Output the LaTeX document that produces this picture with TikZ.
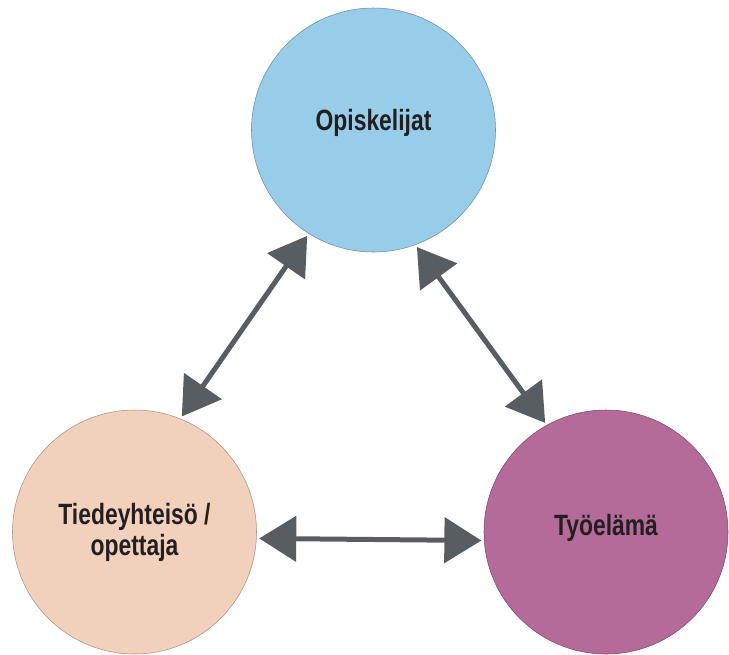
\documentclass[tikz,border=0pt]{standalone}
\usepackage{fontspec}
\setmainfont{Liberation Sans}[FakeStretch=0.78]
\usetikzlibrary{arrows.meta}

\definecolor{opblau}{RGB}{152,205,234}
\definecolor{tiedepfirsich}{RGB}{242,209,188}
\definecolor{tyolila}{RGB}{180,107,153}
\definecolor{pfeilgrau}{RGB}{88,93,97}
\definecolor{textgrau}{RGB}{35,31,32}

\tikzset{
  kreis/.style={circle, minimum size=183pt, inner sep=0pt, line width=0.4pt, draw=#1!70!black, fill=#1},
  teksti/.style={font=\bfseries\fontsize{22}{23.25}\selectfont, text=textgrau, align=center},
  pfeil/.style={{Triangle[length=27.75pt,width=33.75pt]}-{Triangle[length=27.75pt,width=33.75pt]},
    line width=3.75pt, draw=pfeilgrau, shorten <=2pt, shorten >=2pt}
}

\begin{document}
\begin{tikzpicture}[x=0.75pt, y=-0.75pt]
  \useasboundingbox (0,0) rectangle (729,654);

  % Kreise zeichnen
  \node[kreis=opblau] (opisk) at (373.5,130) {};
  \node[kreis=tiedepfirsich] (tiede) at (134.5,532) {};
  \node[kreis=tyolila] (tyo) at (606,532) {};

  % Beschriftungen der Kreise
  \node[teksti, anchor=base] (opisk-txt) at (373.5,130) {Opiskelijat};
  \node[teksti, anchor=base] (tiede-txt) at (134.5,555) {Tiedeyhteisö /\\opettaja};
  \node[teksti, anchor=base] (tyo-txt) at (606,535) {Työelämä};

  % Doppelpfeile zwischen den Kreisen
  \draw[pfeil] (opisk.238.5) -- (tiede.68);
  \draw[pfeil] (opisk.290.4) -- (tyo.119.3);
  \draw[pfeil] (tiede.-3.1) -- (tyo.184.6);
\end{tikzpicture}
\end{document}
